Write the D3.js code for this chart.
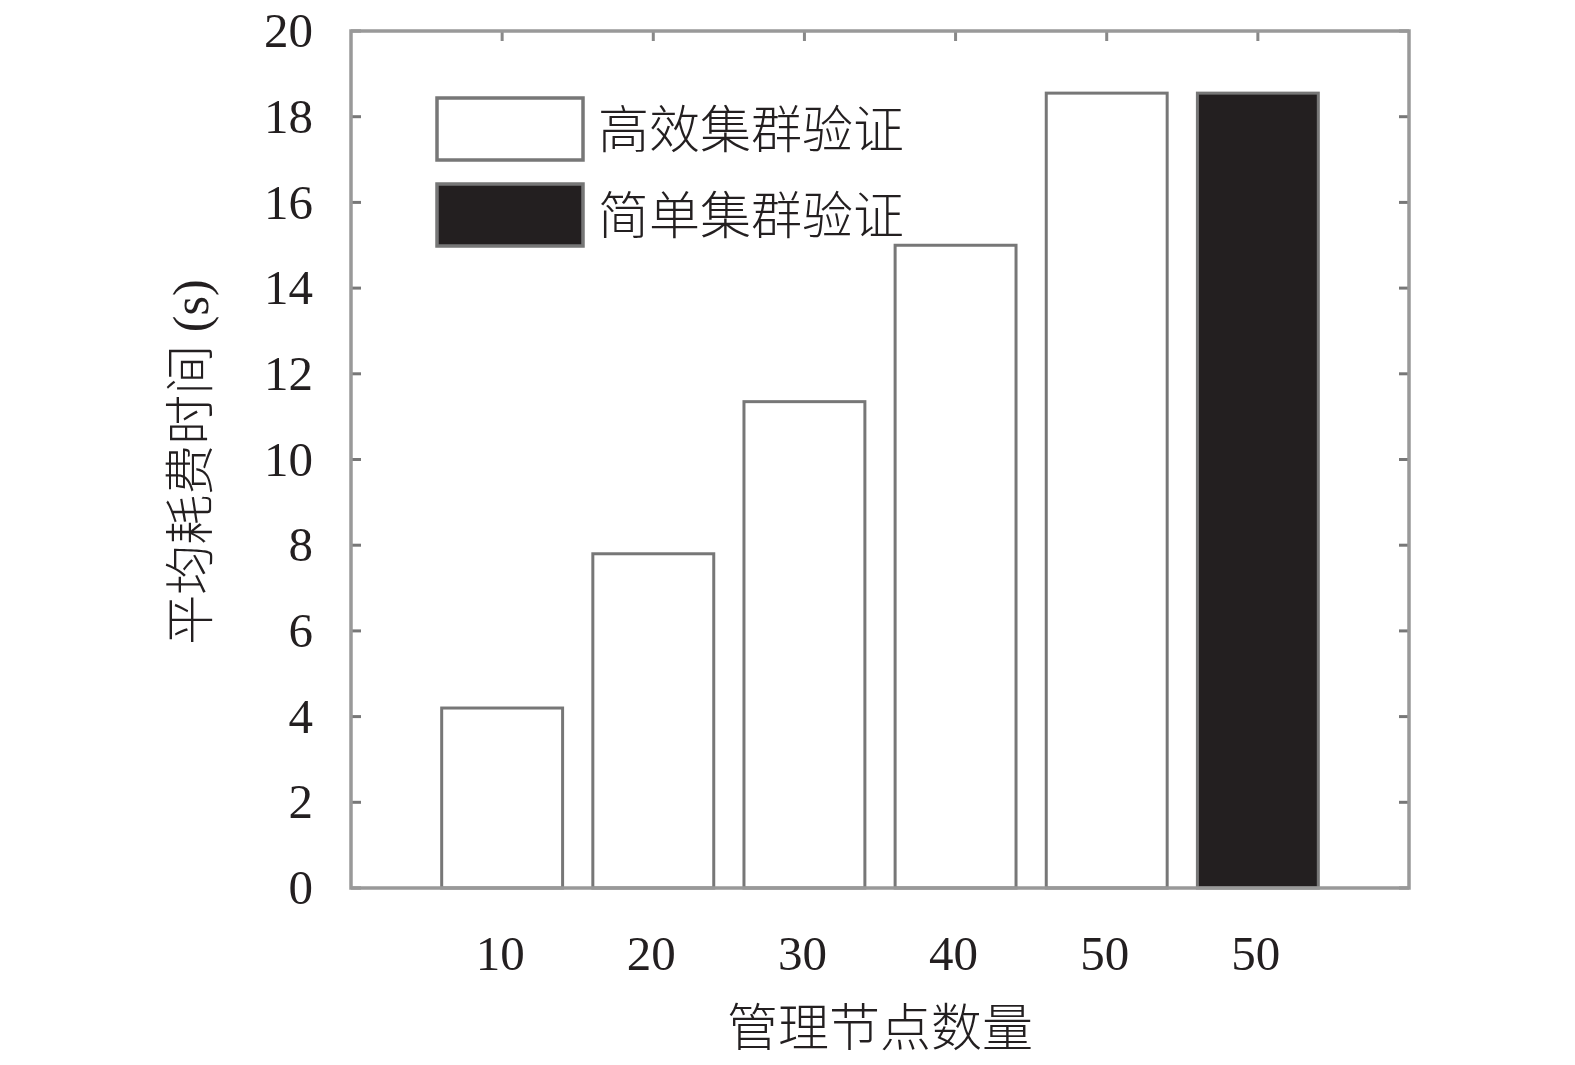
<!DOCTYPE html>
<html>
<head>
<meta charset="utf-8">
<script src="https://d3js.org/d3.v7.min.js"></script>
<style>
body { margin: 0; background: #fff; }
.num { font-family: "Liberation Serif", "Times New Roman", serif; fill: #231f20; }
.cjk { font-family: "Noto Sans CJK SC", sans-serif; fill: #231f20; font-weight: 300; }
</style>
</head>
<body>
<svg width="1575" height="1065"></svg>
<script>
// chart data
const categories = ["10", "20", "30", "40", "50", "50"];
const values = [4.2, 7.8, 11.35, 15.0, 18.55, 18.55];
const series = ["高效集群验证", "高效集群验证", "高效集群验证", "高效集群验证", "高效集群验证", "简单集群验证"];
const legendNames = ["高效集群验证", "简单集群验证"];
const yTicks = [0, 2, 4, 6, 8, 10, 12, 14, 16, 18, 20];

const svg = d3.select("svg");
const plotL = 351, plotR = 1409, plotT = 31, plotB = 888;

const x = d3.scaleLinear().domain([0, categories.length + 1]).range([plotL, plotR]);
const y = d3.scaleLinear().domain([0, 20]).range([plotB, plotT]);
const fill = d3.scaleOrdinal().domain(legendNames).range(["#fff", "#231f20"]);
const barW = x(0.8) - x(0);

// ticks (inside the box)
const axisColor = "#999";
svg.append("g")
  .selectAll("line")
  .data(yTicks)
  .join("line")
  .attr("x1", plotL).attr("x2", plotL + 10)
  .attr("y1", d => y(d)).attr("y2", d => y(d))
  .attr("stroke", "#777").attr("stroke-width", 3);
svg.append("g")
  .selectAll("line")
  .data(yTicks)
  .join("line")
  .attr("x1", plotR - 10).attr("x2", plotR)
  .attr("y1", d => y(d)).attr("y2", d => y(d))
  .attr("stroke", "#777").attr("stroke-width", 3);
svg.append("g")
  .selectAll("line")
  .data(categories)
  .join("line")
  .attr("x1", (d, i) => x(i + 1)).attr("x2", (d, i) => x(i + 1))
  .attr("y1", plotT).attr("y2", plotT + 10)
  .attr("stroke", "#888").attr("stroke-width", 3);

// bars
svg.append("g")
  .selectAll("rect")
  .data(values)
  .join("rect")
  .attr("x", (d, i) => x(i + 1) - barW / 2)
  .attr("y", d => y(d))
  .attr("width", barW)
  .attr("height", d => plotB - y(d))
  .attr("fill", (d, i) => fill(series[i]))
  .attr("stroke", "#777")
  .attr("stroke-width", 3);

// axis box
svg.append("rect")
  .attr("x", plotL).attr("y", plotT)
  .attr("width", plotR - plotL).attr("height", plotB - plotT)
  .attr("fill", "none")
  .attr("stroke", axisColor)
  .attr("stroke-width", 3.5);

// y tick labels
svg.append("g")
  .selectAll("text")
  .data(yTicks)
  .join("text")
  .attr("class", "num")
  .attr("x", 313)
  .attr("y", d => y(d))
  .attr("dy", "0.33em")
  .attr("text-anchor", "end")
  .attr("font-size", 49)
  .text(d => d);

// x tick labels
svg.append("g")
  .selectAll("text")
  .data(categories)
  .join("text")
  .attr("class", "num")
  .attr("x", (d, i) => x(i + 1) - 2)
  .attr("y", 970)
  .attr("text-anchor", "middle")
  .attr("font-size", 49)
  .text(d => d);

// axis titles
svg.append("text")
  .attr("class", "cjk")
  .attr("x", 880).attr("y", 1046)
  .attr("text-anchor", "middle")
  .attr("font-size", 51)
  .text("管理节点数量");

const yTitle = svg.append("text")
  .attr("class", "cjk")
  .attr("transform", "translate(208,462) rotate(-90)")
  .attr("text-anchor", "middle")
  .attr("font-size", 50);
yTitle.append("tspan").text("平均耗费时间");
yTitle.append("tspan")
  .attr("font-family", "Liberation Serif, serif")
  .attr("font-weight", 400)
  .text(" (s)");

// legend
const legend = svg.append("g")
  .selectAll("g")
  .data(legendNames)
  .join("g")
  .attr("transform", (d, i) => `translate(437,${98 + i * 86})`);
legend.append("rect")
  .attr("width", 146).attr("height", 62)
  .attr("fill", d => fill(d))
  .attr("stroke", "#777")
  .attr("stroke-width", 3.5);
legend.append("text")
  .attr("class", "cjk")
  .attr("x", 161).attr("y", 50)
  .attr("font-size", 51)
  .text(d => d);
</script>
</body>
</html>
